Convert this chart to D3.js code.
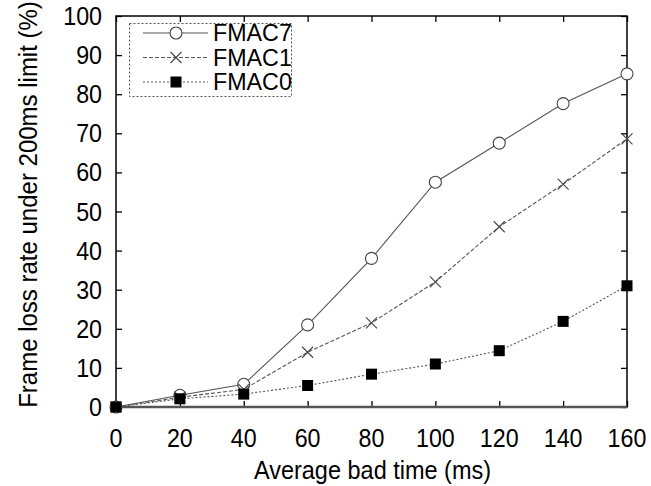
<!DOCTYPE html>
<html>
<head>
<meta charset="utf-8">
<script src="https://cdn.jsdelivr.net/npm/d3@7"></script>
<style>
  html, body { margin: 0; padding: 0; background: #fff; }
  svg { display: block; font-family: "Liberation Sans", Arial, sans-serif; }
</style>
</head>
<body>
<svg id="chart" width="651" height="486"></svg>
<script>
// Average bad time (ms)
const badTime = [0, 20, 40, 60, 80, 100, 120, 140, 160];
// Frame loss rate (%) per scheme
const fmac7 = [0, 3, 5.8, 21, 38, 57.5, 67.5, 77.6, 85.2];
const fmac1 = [0, 2.5, 4.5, 14, 21.5, 32, 46.1, 57, 68.6];
const fmac0 = [0, 2.1, 3.3, 5.5, 8.4, 11, 14.4, 21.9, 31];
const xTicks = [0, 20, 40, 60, 80, 100, 120, 140, 160];
const yTicks = [0, 10, 20, 30, 40, 50, 60, 70, 80, 90, 100];
const seriesNames = ["FMAC7", "FMAC1", "FMAC0"];

const svg = d3.select("#chart");
const m = { left: 116, right: 627, top: 16, bottom: 407 };

const x = d3.scaleLinear().domain([0, 160]).range([m.left, m.right]);
const y = d3.scaleLinear().domain([0, 100]).range([m.bottom, m.top]);

// slightly condensed label type
const squeeze = 0.93;

// tick marks on all four sides, pointing inward
const tickLen = 6;
const g = svg.append("g");
g.append("g").attr("transform", `translate(0,${m.bottom})`)
  .call(d3.axisBottom(x).tickValues(xTicks).tickSize(-tickLen).tickFormat(""))
  .call(a => a.select(".domain").remove());
g.append("g").attr("transform", `translate(0,${m.top})`)
  .call(d3.axisTop(x).tickValues(xTicks).tickSize(-tickLen).tickFormat(""))
  .call(a => a.select(".domain").remove());
g.append("g").attr("transform", `translate(${m.left},0)`)
  .call(d3.axisLeft(y).tickValues(yTicks).tickSize(-tickLen).tickFormat(""))
  .call(a => a.select(".domain").remove());
g.append("g").attr("transform", `translate(${m.right},0)`)
  .call(d3.axisRight(y).tickValues(yTicks).tickSize(-tickLen).tickFormat(""))
  .call(a => a.select(".domain").remove());
g.selectAll(".tick line").attr("stroke", "#000").attr("stroke-width", 1.3);

// tick labels
svg.append("g").selectAll("text").data(xTicks).join("text")
  .attr("transform", d => `translate(${x(d)},447) scale(${squeeze},1)`)
  .attr("text-anchor", "middle").attr("font-size", 25).attr("fill", "#000")
  .text(d => d);
svg.append("g").selectAll("text").data(yTicks).join("text")
  .attr("transform", d => `translate(102,${y(d) + 9}) scale(${squeeze},1)`)
  .attr("text-anchor", "end").attr("font-size", 25).attr("fill", "#000")
  .text(d => d);

// frame
svg.append("rect")
  .attr("x", m.left).attr("y", m.top)
  .attr("width", m.right - m.left).attr("height", m.bottom - m.top)
  .attr("fill", "none").attr("stroke", "#000").attr("stroke-width", 1.5);
svg.append("line")
  .attr("x1", m.left).attr("x2", m.right).attr("y1", m.bottom).attr("y2", m.bottom)
  .attr("stroke", "#555").attr("stroke-width", 2.5);

// axis titles
svg.append("text")
  .attr("transform", `translate(${(m.left + m.right) / 2 + 1},479) scale(0.94,1)`)
  .attr("text-anchor", "middle").attr("font-size", 25).attr("fill", "#000")
  .text("Average bad time (ms)");
svg.append("text")
  .attr("transform", `translate(37,${(m.top + m.bottom) / 2 - 7}) rotate(-90) scale(0.96,1)`)
  .attr("text-anchor", "middle").attr("font-size", 25).attr("fill", "#000")
  .text("Frame loss rate under 200ms limit (%)");

const series = [
  { name: seriesNames[0], values: fmac7, dash: null, marker: "circle" },
  { name: seriesNames[1], values: fmac1, dash: "4,2", marker: "cross" },
  { name: seriesNames[2], values: fmac0, dash: "2,2", marker: "square" }
];

const line = d3.line().x((d, i) => x(badTime[i])).y(d => y(d));

function drawMarker(sel, type) {
  if (type === "circle") {
    sel.append("circle").attr("r", 6).attr("fill", "#fff")
      .attr("stroke", "#444").attr("stroke-width", 1.1);
  } else if (type === "cross") {
    sel.append("path").attr("d", "M-5.5,-5.5L5.5,5.5M-5.5,5.5L5.5,-5.5")
      .attr("stroke", "#444").attr("stroke-width", 1.1).attr("fill", "none");
  } else {
    sel.append("rect").attr("x", -5.5).attr("y", -5.5).attr("width", 11).attr("height", 11)
      .attr("fill", "#000");
  }
}

series.forEach(s => {
  svg.append("path").datum(s.values)
    .attr("d", line).attr("fill", "none")
    .attr("stroke", "#555").attr("stroke-width", 1.1)
    .attr("stroke-dasharray", s.dash);
  svg.append("g").selectAll("g").data(s.values).join("g")
    .attr("transform", (d, i) => `translate(${x(badTime[i])},${y(d)})`)
    .each(function () { drawMarker(d3.select(this), s.marker); });
});

// legend
const lg = svg.append("g");
lg.append("rect").attr("x", 129.5).attr("y", 23.5).attr("width", 162).attr("height", 73)
  .attr("fill", "#fff").attr("stroke", "#555").attr("stroke-width", 1)
  .attr("stroke-dasharray", "2,2");
series.forEach((s, i) => {
  const ly = 33 + i * 24.5;
  lg.append("line").attr("x1", 143).attr("x2", 208).attr("y1", ly).attr("y2", ly)
    .attr("stroke", "#555").attr("stroke-width", 1.1).attr("stroke-dasharray", s.dash);
  const mk = lg.append("g").attr("transform", `translate(176,${ly})`);
  drawMarker(mk, s.marker);
  lg.append("text").attr("transform", `translate(213,${ly + 8}) scale(0.97,1)`)
    .attr("font-size", 24).attr("fill", "#000").text(s.name);
});
</script>
</body>
</html>
